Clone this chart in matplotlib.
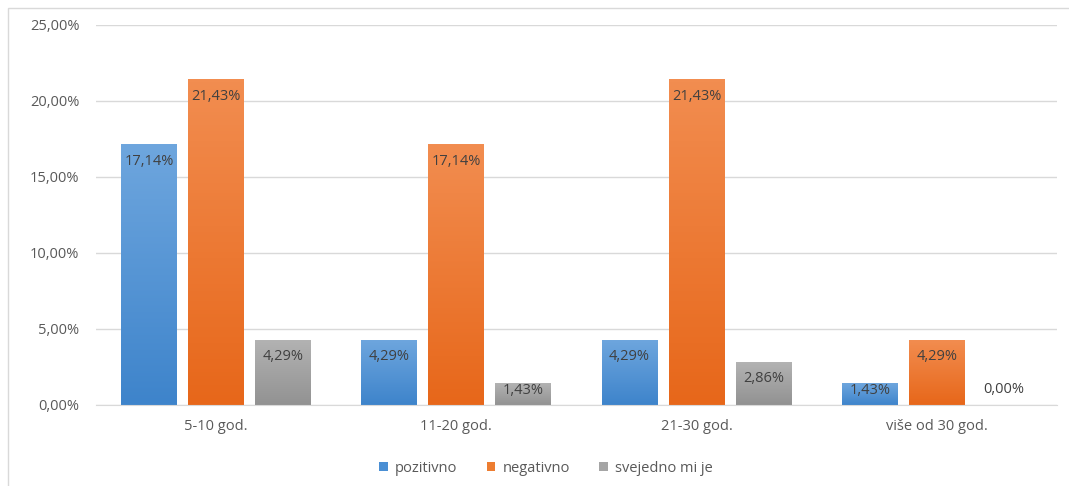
import numpy as np
import matplotlib.pyplot as plt
from matplotlib.patches import Rectangle
from matplotlib.colors import LinearSegmentedColormap

categories = ['5-10 god.', '11-20 god.', '21-30 god.', 'više od 30 god.']
series_names = ['pozitivno', 'negativno', 'svejedno mi je']
pozitivno = [17.14, 4.29, 4.29, 1.43]
negativno = [21.43, 17.14, 21.43, 4.29]
svejedno = [4.29, 1.43, 2.86, 0.00]
y_ticks = [0, 5, 10, 15, 20, 25]

# (top colour, bottom colour, legend colour)
palette = [
    ('#6ea6de', '#3e84cb', '#4a8fd4'),
    ('#f28d50', '#e7671a', '#ed7d31'),
    ('#b3b3b3', '#929292', '#a5a5a5'),
]

plt.rcParams['font.family'] = ['Open Sans', 'DejaVu Sans']

fig = plt.figure(figsize=(10.69, 4.86), dpi=100)
ax = fig.add_axes([96 / 1069, 0.1667, 961 / 1069, 0.7819])

# chart border
fig.patches.append(Rectangle((8 / 1069, -0.1), 1.2, 1 - 8 / 486 + 0.1,
                             transform=fig.transFigure, fill=False,
                             edgecolor='#d9d9d9', lw=1))

x = np.arange(len(categories))
width = 0.233
step = 0.279
all_series = [pozitivno, negativno, svejedno]

for i, (vals, name) in enumerate(zip(all_series, series_names)):
    top_c, bot_c, leg_c = palette[i]
    cmap = LinearSegmentedColormap.from_list('g%d' % i, [bot_c, top_c])
    pos = x + (i - 1) * step
    bars = ax.bar(pos, vals, width, color=leg_c, label=name, zorder=2)
    for b, v in zip(bars, vals):
        if v > 0:
            grad = np.linspace(0, 1, 100).reshape(-1, 1)
            im = ax.imshow(grad, cmap=cmap, aspect='auto', origin='lower',
                           extent=[b.get_x(), b.get_x() + width, 0, v],
                           zorder=2.5)
            im.set_clip_path(b)
        label = f'{v:.2f}'.replace('.', ',') + '%'
        if v == 0:
            off = 15
        elif v < 2:
            off = -7
        else:
            off = -17
        ax.annotate(label, (b.get_x() + width / 2, v), xytext=(0, off),
                    textcoords='offset pixels', ha='center', va='center',
                    fontsize=10.5, color='#404040', zorder=4)

ax.set_xlim(-0.5, 3.5)
ax.set_ylim(0, 25)
ax.set_yticks(y_ticks)
ax.set_yticklabels([f'{t:.2f}'.replace('.', ',') + '%' for t in y_ticks])
ax.set_xticks(x)
ax.set_xticklabels(categories)
ax.tick_params(length=0, colors='#595959', labelsize=10.5)
ax.tick_params(axis='y', pad=12)
ax.tick_params(axis='x', pad=10)
ax.grid(axis='y', color='#d9d9d9', lw=1, zorder=0)
ax.set_axisbelow(True)
for s in ['top', 'right', 'left']:
    ax.spines[s].set_visible(False)
ax.spines['bottom'].set_color('#d9d9d9')

fig.legend(*ax.get_legend_handles_labels(), loc='center',
           bbox_to_anchor=(546 / 1069, 1 - 468 / 486), ncol=3, frameon=False,
           fontsize=10.5, handlelength=0.6, handleheight=0.6, columnspacing=2.0,
           handletextpad=0.5, labelcolor='#595959')

fig.savefig('out.png', dpi=100)
